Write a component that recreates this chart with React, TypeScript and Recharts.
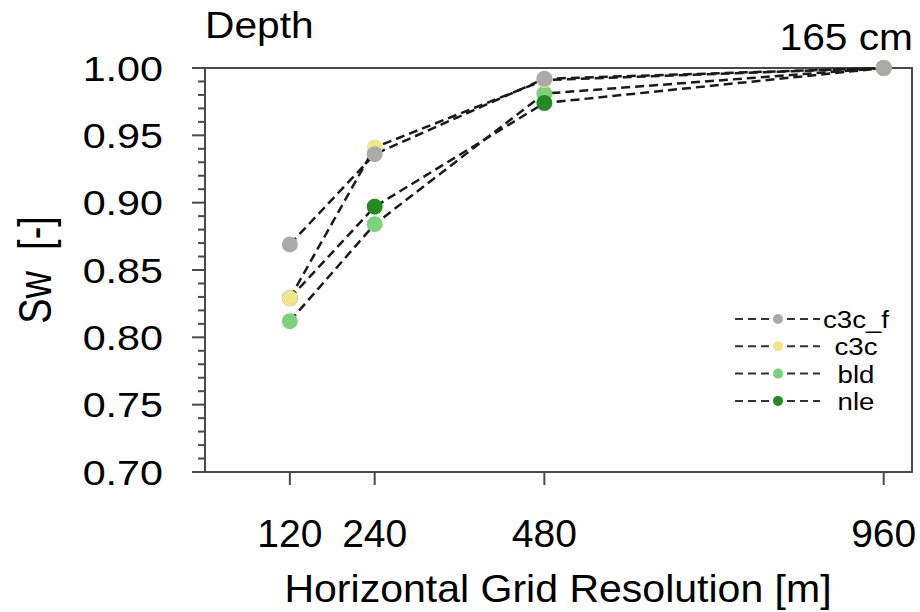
import React from 'react';
import { LineChart, Line, XAxis, YAxis, ReferenceArea, Customized } from 'recharts';

const resolutions = [120, 240, 480, 960];
const c3cFValues = [0.869, 0.936, 0.992, 1.0];
const c3cValues = [0.829, 0.941, 0.991, 1.0];
const bldValues = [0.812, 0.884, 0.981, 1.0];
const nleValues = [0.829, 0.897, 0.974, 1.0];

const xTicks = [120, 240, 480, 960];
const yTicks = [
  0.7, 0.71, 0.72, 0.73, 0.74, 0.75, 0.76, 0.77, 0.78, 0.79, 0.8, 0.81, 0.82, 0.83, 0.84, 0.85,
  0.86, 0.87, 0.88, 0.89, 0.9, 0.91, 0.92, 0.93, 0.94, 0.95, 0.96, 0.97, 0.98, 0.99, 1.0,
];

const seriesDefs = [
  { key: 'c3c_f', color: '#aaaaaa' },
  { key: 'c3c', color: '#f0e68c' },
  { key: 'bld', color: '#7dd17d' },
  { key: 'nle', color: '#228b22' },
];
const drawOrder = ['bld', 'nle', 'c3c', 'c3c_f'];

const data = resolutions.map((r, i) => ({
  res: r,
  c3c_f: c3cFValues[i],
  c3c: c3cValues[i],
  bld: bldValues[i],
  nle: nleValues[i],
}));

const FONT = '"Liberation Sans", Arial, Helvetica, sans-serif';
const AXIS = '#4a4a4a';

const YTick = (props: any) => {
  const { x, y, payload } = props;
  const v = payload.value as number;
  const major = Math.round(v * 100) % 5 === 0;
  return (
    <g>
      <line x1={x - (major ? 13 : 7)} x2={x} y1={y} y2={y} stroke={AXIS} strokeWidth={2} />
      {major && (
        <text
          transform={`translate(${x - 42},${y + 12.5}) scale(1.18,1)`}
          textAnchor="end"
          fontFamily={FONT}
          fontSize={35}
          fill="#000"
        >
          {v.toFixed(2)}
        </text>
      )}
    </g>
  );
};

const XTick = (props: any) => {
  const { x, y, payload } = props;
  return (
    <g>
      <line x1={x} x2={x} y1={y} y2={y + 13} stroke={AXIS} strokeWidth={2} />
      <text x={x} y={y + 75} textAnchor="middle" fontFamily={FONT} fontSize={39} fill="#000">
        {payload.value}
      </text>
    </g>
  );
};

const Overlay = () => (
  <g fontFamily={FONT} fill="#000">
    <text transform="translate(205,38) scale(1.1,1)" fontSize={37}>Depth</text>
    <text transform="translate(913,50) scale(1.1,1)" fontSize={37} textAnchor="end">165 cm</text>
    <text transform="translate(558,602) scale(1.08,1)" fontSize={38} textAnchor="middle">
      Horizontal Grid Resolution [m]
    </text>
    <text transform="translate(51,270) rotate(-90) scale(1,1.2)" fontSize={38} textAnchor="middle">
      {'Sw\u00a0\u00a0[-]'}
    </text>
    {seriesDefs.map((s, i) => {
      const yy = 319 + i * 27.3;
      return (
        <g key={s.key}>
          <line x1={735} x2={820} y1={yy} y2={yy} stroke="#333" strokeWidth={2} strokeDasharray="8 5" />
          <circle cx={778} cy={yy} r={5} fill={s.color} />
          <text
            transform={`translate(856,${yy + 9}) scale(1.15,1)`}
            textAnchor="middle"
            fontSize={24}
          >
            {s.key}
          </text>
        </g>
      );
    })}
  </g>
);

export default function App() {
  const colorOf = (k: string) => seriesDefs.find((s) => s.key === k)!.color;
  return (
    <div style={{ position: 'absolute', left: 0, top: 0, width: 920, height: 612, background: '#fff' }}>
      <LineChart width={920} height={612} data={data} margin={{ top: 68, right: 8, bottom: 80, left: 105 }}>
        <XAxis
          dataKey="res"
          type="number"
          domain={[0, 1000]}
          ticks={xTicks}
          interval={0}
          height={60}
          tickSize={0}
          tickMargin={0}
          axisLine={false}
          tickLine={false}
          tick={(p: any) => <XTick {...p} />}
        />
        <YAxis
          type="number"
          domain={[0.7, 1.0]}
          ticks={yTicks}
          interval={0}
          width={100}
          tickSize={0}
          tickMargin={0}
          axisLine={false}
          tickLine={false}
          tick={(p: any) => <YTick {...p} />}
        />
        <ReferenceArea x1={0} x2={1000} y1={0.7} y2={1.0} fill="none" stroke={AXIS} strokeWidth={2} fillOpacity={0} />
        {drawOrder.map((k) => (
          <Line
            key={k}
            dataKey={k}
            type="linear"
            stroke="#1a1a1a"
            strokeWidth={2.5}
            strokeDasharray="9 5"
            dot={{ r: 8, fill: colorOf(k), stroke: 'none' }}
            activeDot={false}
            isAnimationActive={false}
            legendType="none"
          />
        ))}
        <Customized component={<Overlay />} />
      </LineChart>
    </div>
  );
}
